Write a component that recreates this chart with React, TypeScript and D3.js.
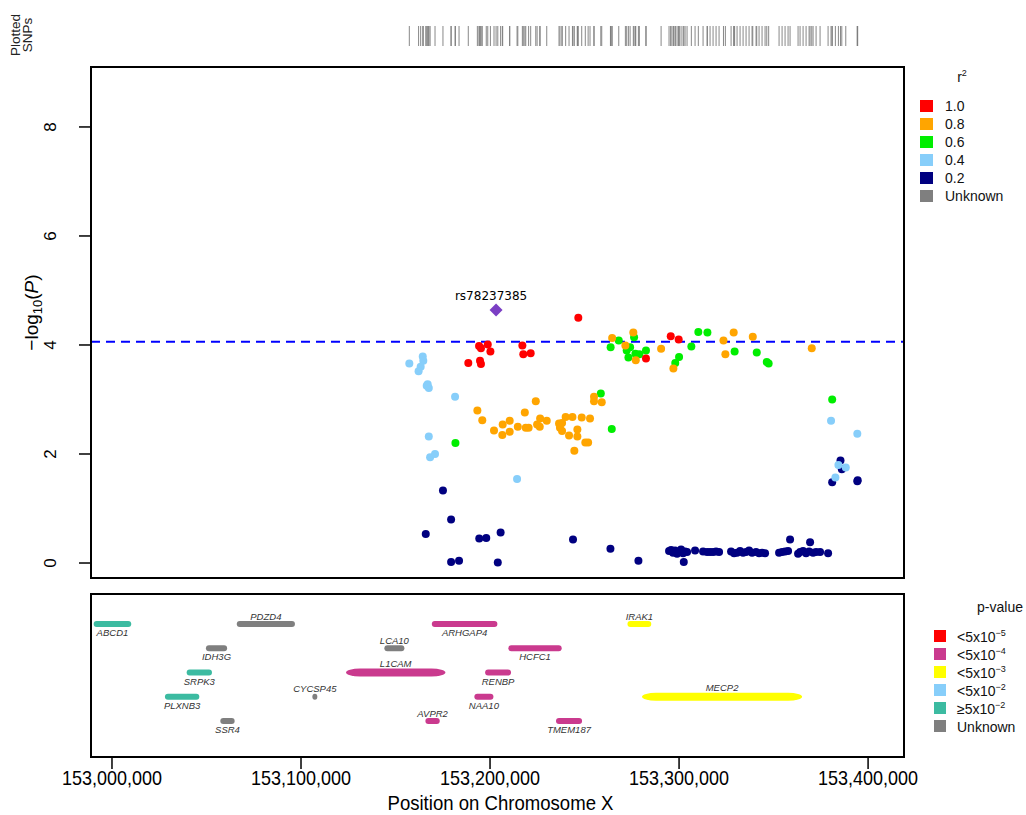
import React from 'react';
import * as d3 from 'd3';

// SNPs grouped by LD class with the lead SNP: [position (bp), -log10(P)]
const snpsNavy: [number, number][] = [
  [153175100, 1.33], [153179400, 0.80], [153166000, 0.53], [153194300, 0.45], [153198000, 0.46],
  [153205600, 0.56], [153179400, 0.02], [153183600, 0.04], [153204100, 0.01], [153243900, 0.43],
  [153263700, 0.26], [153278500, 0.04], [153302500, 0.02],
  [153294700, 0.22], [153295760, 0.24], [153296820, 0.19], [153297880, 0.23], [153298940, 0.17],
  [153300000, 0.21], [153301060, 0.25], [153302120, 0.18], [153303180, 0.21], [153304230, 0.20],
  [153308470, 0.23], [153312700, 0.21], [153314820, 0.20], [153316400, 0.20], [153317990, 0.20],
  [153319580, 0.21], [153321170, 0.20], [153327520, 0.21], [153329100, 0.18], [153330690, 0.19],
  [153332280, 0.22], [153333870, 0.19], [153335450, 0.20], [153337040, 0.23], [153338620, 0.19],
  [153340740, 0.20], [153342330, 0.18], [153343910, 0.19], [153345500, 0.18], [153352910, 0.19],
  [153354500, 0.20], [153356080, 0.21], [153357670, 0.22], [153358730, 0.43], [153362960, 0.17],
  [153364020, 0.20], [153365610, 0.22], [153367200, 0.18], [153368790, 0.21], [153369320, 0.38],
  [153370900, 0.19], [153372490, 0.20], [153374600, 0.20], [153378840, 0.18],
  [153385400, 1.88], [153386100, 1.72], [153381000, 1.48], [153394500, 1.52], [153394300, 1.50],
];
const snpsLightBlue: [number, number][] = [
  [153157300, 3.66], [153164400, 3.79], [153164700, 3.71], [153163300, 3.60], [153162200, 3.52],
  [153167000, 3.28], [153167600, 3.21], [153166500, 3.25], [153181500, 3.05], [153167600, 2.32],
  [153168300, 1.94], [153170900, 2.00], [153214300, 1.54], [153380400, 2.61], [153394300, 2.37],
  [153384300, 1.80], [153388200, 1.75], [153382700, 1.57],
];
const snpsGreen: [number, number][] = [
  [153181700, 2.20], [153258600, 3.11], [153264400, 2.46], [153310200, 4.24], [153315000, 4.23],
  [153263800, 3.96], [153268100, 4.08], [153276200, 4.14], [153272300, 3.90], [153274100, 3.96],
  [153273200, 3.77], [153276900, 3.84], [153279000, 3.83], [153282500, 3.90], [153306500, 3.97],
  [153300000, 3.78], [153298000, 3.67], [153329400, 3.88], [153341100, 3.86], [153346400, 3.69],
  [153347400, 3.66], [153381000, 3.00],
];
const snpsOrange: [number, number][] = [
  [153193300, 2.80], [153195900, 2.62], [153202100, 2.43], [153206500, 2.35], [153206700, 2.54],
  [153210400, 2.61], [153210400, 2.41], [153214700, 2.50], [153218400, 2.76], [153218900, 2.48],
  [153220400, 2.48], [153224200, 2.97], [153224900, 2.54], [153226500, 2.65], [153226300, 2.50],
  [153230000, 2.61], [153236500, 2.56], [153238100, 2.57], [153237000, 2.48], [153238100, 2.42],
  [153240000, 2.68], [153243600, 2.68], [153241800, 2.34], [153246200, 2.45], [153246200, 2.32],
  [153244600, 2.06], [153248500, 2.67], [153250400, 2.21], [153251900, 2.21], [153252900, 2.65],
  [153255000, 3.05], [153255000, 2.97], [153259100, 2.95], [153264600, 4.13], [153275800, 4.23],
  [153271600, 3.99], [153290500, 3.93], [153277100, 3.72], [153297000, 3.57], [153323500, 4.08],
  [153328900, 4.23], [153324500, 3.83], [153339000, 4.15], [153370200, 3.94],
];
const snpsRed: [number, number][] = [
  [153246700, 4.50], [153194200, 3.98], [153195200, 3.94], [153198800, 4.01], [153200200, 3.88],
  [153188500, 3.67], [153194700, 3.71], [153195200, 3.65], [153217100, 3.99], [153217600, 3.83],
  [153221500, 3.85], [153295600, 4.16], [153299800, 4.10], [153282500, 3.75],
];
const leadSnp = { name: 'rs78237385', pos: 153203200, logp: 4.64 };
const threshold = 4.06;

const r2Labels = ['1.0', '0.8', '0.6', '0.4', '0.2', 'Unknown'];
const r2Colors = ['#FF0000', '#FFA500', '#00EE00', '#87CEFA', '#000080', '#7F7F7F'];

const pLabels = [['<5x10', '−5'], ['<5x10', '−4'], ['<5x10', '−3'], ['<5x10', '−2'], ['≥5x10', '−2'], ['Unknown', '']];
const pColors = ['#FF0000', '#CA3A8E', '#FFFF00', '#87CEFA', '#3CBBA1', '#7F7F7F'];

// genes: start/end (bp), track row, p-value class (index in pColors), label above bar
const genes = [
  { name: 'ABCD1', start: 152990300, end: 153010200, row: 0, p: 4, above: false },
  { name: 'PDZD4', start: 153066000, end: 153096800, row: 0, p: 5, above: true },
  { name: 'ARHGAP4', start: 153169200, end: 153203900, row: 0, p: 1, above: false },
  { name: 'IRAK1', start: 153272700, end: 153285300, row: 0, p: 2, above: true },
  { name: 'IDH3G', start: 153049700, end: 153060900, row: 1, p: 5, above: false },
  { name: 'LCA10', start: 153144100, end: 153154700, row: 1, p: 5, above: true },
  { name: 'HCFC1', start: 153209700, end: 153237900, row: 1, p: 1, above: false },
  { name: 'SRPK3', start: 153039500, end: 153052900, row: 2, p: 4, above: false },
  { name: 'L1CAM', start: 153123800, end: 153176400, row: 2, p: 1, above: true },
  { name: 'RENBP', start: 153197400, end: 153211100, row: 2, p: 1, above: false },
  { name: 'PLXNB3', start: 153028000, end: 153046200, row: 3, p: 4, above: false },
  { name: 'CYCSP45', start: 153106000, end: 153106400, row: 3, p: 5, above: true },
  { name: 'NAA10', start: 153191700, end: 153201800, row: 3, p: 1, above: false },
  { name: 'MECP2', start: 153280400, end: 153365100, row: 3, p: 2, above: true },
  { name: 'SSR4', start: 153057300, end: 153064900, row: 4, p: 5, above: false },
  { name: 'AVPR2', start: 153165800, end: 153173400, row: 4, p: 1, above: true },
  { name: 'TMEM187', start: 153234900, end: 153248700, row: 4, p: 1, above: false },
];

const xTicks = [153000000, 153100000, 153200000, 153300000, 153400000];
const yTicks = [0, 2, 4, 6, 8];

const SANS = 'Liberation Sans, Arial, Helvetica, sans-serif';

export default function App() {
  const top = { l: 91, r: 904, t: 67, b: 578 };
  const geneBox = { t: 594, b: 757 };

  const x = d3.scaleLinear().domain([152988900, 153419000]).range([top.l, top.r]);
  const y = d3.scaleLinear().domain([-0.275, 9.1]).range([top.b, top.t]);
  const rowY = d3.scaleLinear().domain([0, 4]).range([624, 721]);

  const groups = [
    { pts: snpsNavy, color: r2Colors[4] },
    { pts: snpsLightBlue, color: r2Colors[3] },
    { pts: snpsGreen, color: r2Colors[2] },
    { pts: snpsOrange, color: r2Colors[1] },
    { pts: snpsRed, color: r2Colors[0] },
  ];
  const allPos = [...snpsNavy, ...snpsLightBlue, ...snpsGreen, ...snpsOrange, ...snpsRed]
    .map(d => d[0]).concat([leadSnp.pos]);

  const fmt = d3.format(',');
  const lx = x(leadSnp.pos), ly = y(leadSnp.logp);
  const yMid = (top.t + top.b) / 2;

  return (
    <svg width={1026} height={815} style={{ position: 'absolute', left: 0, top: 0, background: '#fff' }}>
      <defs>
        <clipPath id="topclip"><rect x={top.l} y={top.t} width={top.r - top.l} height={top.b - top.t} /></clipPath>
        <clipPath id="geneclip"><rect x={top.l} y={geneBox.t} width={top.r - top.l} height={geneBox.b - geneBox.t} /></clipPath>
      </defs>

      {/* plotted SNPs rug */}
      <text transform="translate(22,35) rotate(-90)" textAnchor="middle" fontFamily={SANS} fontSize={13.5} fill="#222">
        <tspan x={0} dy={-2}>Plotted</tspan>
        <tspan x={0} dy={12}>SNPs</tspan>
      </text>
      <g stroke="#7a7a7a" strokeWidth={0.9}>
        {allPos.map((p, i) => <line key={i} x1={x(p)} x2={x(p)} y1={26} y2={46} />)}
      </g>

      {/* association panel */}
      <line x1={top.l} x2={top.r} y1={y(threshold)} y2={y(threshold)} stroke="#0000FF" strokeWidth={2} strokeDasharray="9,6" />
      <g clipPath="url(#topclip)">
        {groups.map((g, gi) => g.pts.map((d, i) => (
          <circle key={gi + '-' + i} cx={x(d[0])} cy={y(d[1])} r={4} fill={g.color} />
        )))}
        <path d={`M${lx},${ly - 6.5}L${lx + 6.5},${ly}L${lx},${ly + 6.5}L${lx - 6.5},${ly}Z`} fill="#7B3FC4" />
      </g>
      <text x={lx - 5} y={ly - 10} textAnchor="middle" fontFamily="DejaVu Sans, sans-serif" fontSize={12} fill="#000">{leadSnp.name}</text>
      <rect x={top.l} y={top.t} width={top.r - top.l} height={top.b - top.t} fill="none" stroke="#000" strokeWidth={2} />

      {/* y axis */}
      <g fontFamily={SANS} fontSize={17} fill="#000">
        {yTicks.map(t => (
          <g key={t}>
            <line x1={top.l - 12} x2={top.l} y1={y(t)} y2={y(t)} stroke="#000" strokeWidth={1.5} />
            <text transform={`translate(56,${y(t)}) rotate(-90)`} textAnchor="middle">{t}</text>
          </g>
        ))}
        <text transform={`translate(38,${yMid - 10}) rotate(-90)`} textAnchor="middle" fontSize={19}>
          −log<tspan fontSize={13} dy={4}>10</tspan><tspan dy={-4}>(</tspan><tspan fontStyle="italic">P</tspan>)
        </text>
      </g>

      {/* r2 legend */}
      <g fontFamily={SANS} fontSize={14} fill="#111">
        <text x={962} y={82} textAnchor="middle">r<tspan fontSize={9} dy={-6}>2</tspan></text>
        {r2Labels.map((lab, i) => (
          <g key={lab} transform={`translate(0,${106 + i * 18})`}>
            <rect x={920} y={-6} width={13} height={12} fill={r2Colors[i]} />
            <text x={945} y={5}>{lab}</text>
          </g>
        ))}
      </g>

      {/* gene panel */}
      <g clipPath="url(#geneclip)">
        {genes.map(g => {
          const x0 = x(g.start), x1 = x(g.end);
          const w = Math.max(x1 - x0, 5);
          const h = w > 90 ? 8 : 6;
          const cy = rowY(g.row);
          const rx = w > 90 ? 14 : h / 2;
          return (
            <g key={g.name}>
              <rect x={x0} y={cy - h / 2} width={w} height={h} rx={Math.min(rx, w / 2)} ry={h / 2} fill={pColors[g.p]} />
              <text x={x0 + w / 2} y={g.above ? cy - h / 2 - 1.5 : cy + 12} textAnchor="middle"
                fontFamily={SANS} fontStyle="italic" fontSize={9.5} fill="#333">{g.name}</text>
            </g>
          );
        })}
      </g>
      <rect x={top.l} y={geneBox.t} width={top.r - top.l} height={geneBox.b - geneBox.t} fill="none" stroke="#000" strokeWidth={2} />

      {/* p-value legend */}
      <g fontFamily={SANS} fontSize={14} fill="#111">
        <text x={1000} y={612} textAnchor="middle">p-value</text>
        {pLabels.map((lab, i) => (
          <g key={i} transform={`translate(0,${636 + i * 18})`}>
            <rect x={934} y={-6} width={12} height={12} fill={pColors[i]} />
            <text x={957} y={6}>{lab[0]}{lab[1] && <tspan fontSize={9} dy={-6}>{lab[1]}</tspan>}</text>
          </g>
        ))}
      </g>

      {/* x axis */}
      <g fontFamily={SANS} fontSize={21} fill="#000">
        {xTicks.map(t => (
          <g key={t}>
            <line x1={x(t)} x2={x(t)} y1={geneBox.b} y2={geneBox.b + 12} stroke="#000" strokeWidth={1.5} />
            <text x={x(t)} y={785} textAnchor="middle" textLength={100} lengthAdjust="spacingAndGlyphs">{fmt(t)}</text>
          </g>
        ))}
        <text x={(top.l + top.r) / 2 + 3} y={810} textAnchor="middle" textLength={226} lengthAdjust="spacingAndGlyphs">Position on Chromosome X</text>
      </g>
    </svg>
  );
}
